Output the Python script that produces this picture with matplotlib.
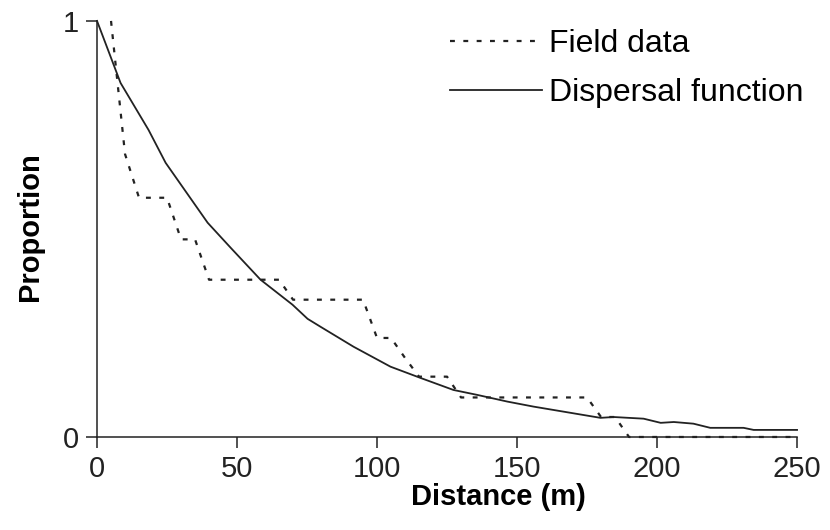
import matplotlib
matplotlib.use("Agg")
import matplotlib.pyplot as plt

plt.rcParams['font.family'] = ['Liberation Sans', 'DejaVu Sans']

# field data (step-like curve)
field_x = [5, 10, 15, 25, 30, 35, 40, 65, 70, 95, 100, 105, 110, 115, 125,
           130, 175, 180, 185, 190, 250]
field_y = [1.0, 0.68, 0.575, 0.575, 0.475, 0.475, 0.378, 0.378, 0.33, 0.33,
           0.238, 0.238, 0.19, 0.145, 0.145, 0.095, 0.095, 0.048, 0.048, 0.0, 0.0]

# fitted dispersal function
disp_x = [0, 8.4, 18.4, 24.5, 39.5, 47.7, 58.4, 69.8, 75.2, 79.8, 91.6, 104.8,
          115.5, 127.3, 135.9, 146.6, 155.9, 179.8, 184.5, 195.2, 201.3, 206,
          213, 219, 230.9, 234.5, 250]
disp_y = [1.0, 0.851, 0.738, 0.659, 0.515, 0.455, 0.378, 0.318, 0.284, 0.265,
          0.217, 0.169, 0.142, 0.113, 0.101, 0.085, 0.073, 0.046, 0.048, 0.044,
          0.034, 0.036, 0.032, 0.022, 0.022, 0.017, 0.017]

x_ticks = [0, 50, 100, 150, 200, 250]
y_ticks = [0, 1]

fig = plt.figure(figsize=(8.3, 5.3), dpi=100)
ax = fig.add_axes([0.1169, 0.1755, 0.8434, 0.785])

ax.plot(field_x, field_y, color='#222222', lw=1.6, linestyle=(0, (2.2, 3.8)),
        label='Field data', clip_on=False)
ax.plot(disp_x, disp_y, color='#222222', lw=1.3, label='Dispersal function',
        clip_on=False)

ax.set_xlim(0, 250)
ax.set_ylim(0, 1)
ax.set_xticks(x_ticks)
ax.set_yticks(y_ticks)
ax.tick_params(direction='out', length=8, width=1.1, labelsize=21, pad=5,
               colors='#222222')
for s in ['top', 'right']:
    ax.spines[s].set_visible(False)
for s in ['left', 'bottom']:
    ax.spines[s].set_linewidth(1.1)
    ax.spines[s].set_color('#222222')

ax.set_xlabel('Distance (m)', fontsize=21, fontweight='bold', va='center')
ax.xaxis.set_label_coords(0.573, -0.145)
ax.set_ylabel('Proportion', fontsize=21, fontweight='bold', va='center')
ax.yaxis.set_label_coords(-0.096, 0.505)

fig.legend(loc='upper left', bbox_to_anchor=(450 / 830, 1 - 29 / 530),
           frameon=False, fontsize=23, handlelength=2.87, handletextpad=0.22,
           labelspacing=0.6, borderpad=0, borderaxespad=0)

fig.savefig('out.png', dpi=100)
